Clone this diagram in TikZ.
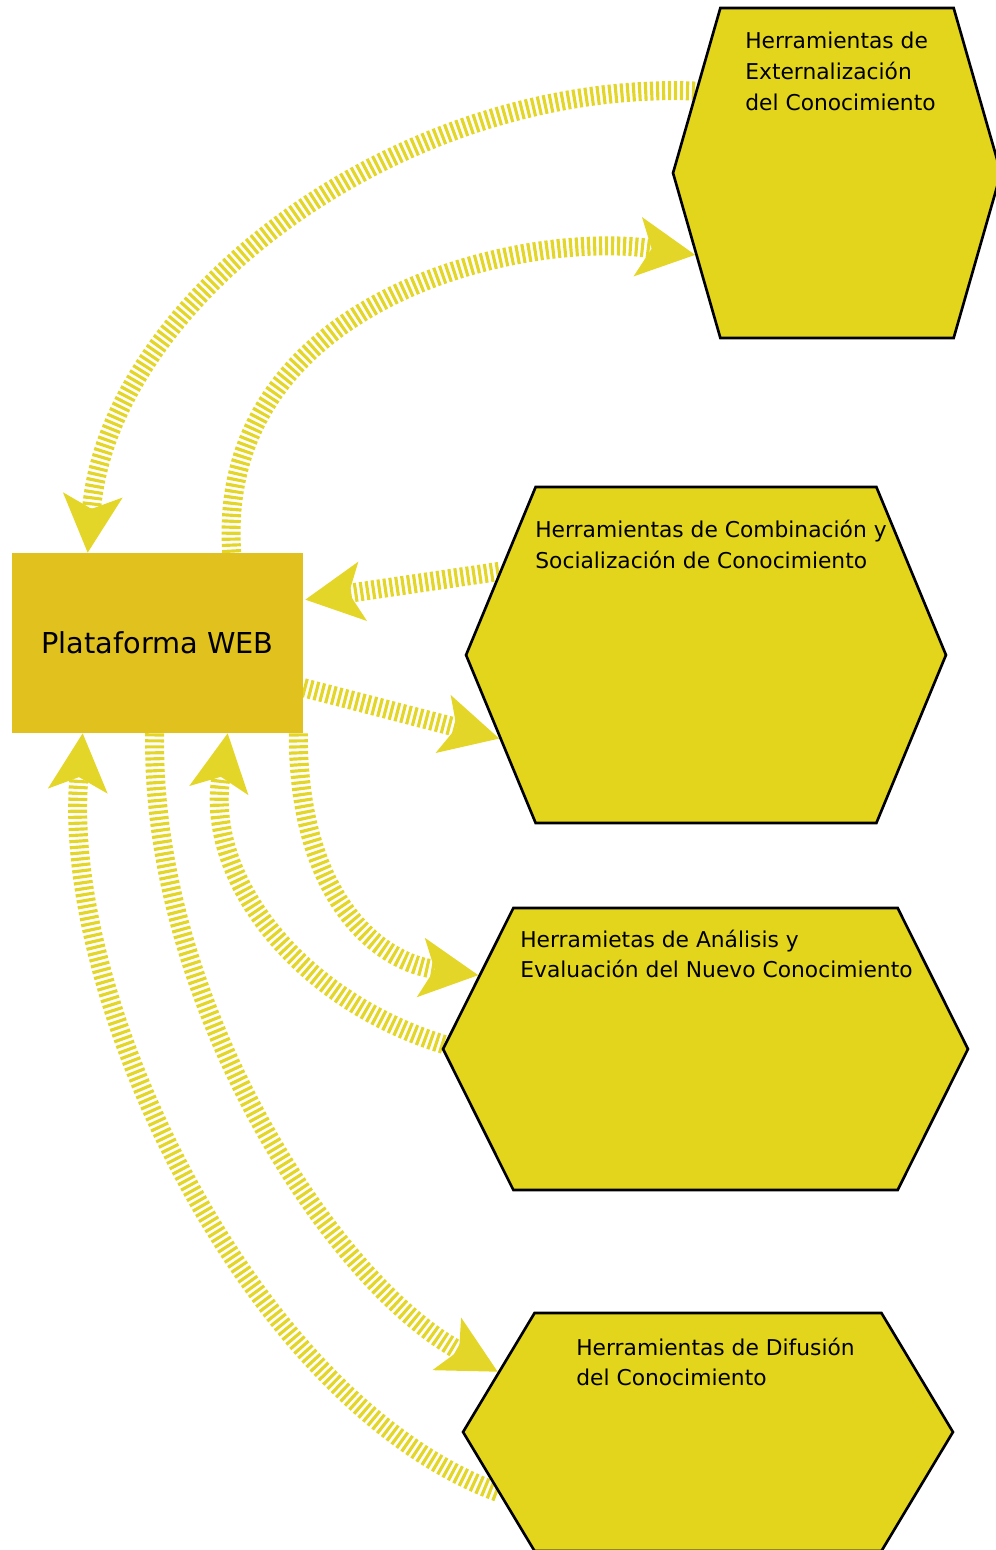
\documentclass[tikz,border=0pt]{standalone}
\usepackage{fontspec}
\setmainfont{DejaVu Sans}
\usepackage{tikz}
\usetikzlibrary{shapes.symbols, arrows.meta, calc, backgrounds}
\definecolor{webgold}{RGB}{224,193,30}
\definecolor{toolyellow}{RGB}{226,213,28}
\definecolor{flowyellow}{RGB}{227,214,40}

\begin{document}
\begin{tikzpicture}[
    x=0.02cm, y=-0.02cm,
    web/.style={rectangle, fill=webgold, minimum width=5.82cm, minimum height=3.6cm, inner sep=0pt, font=\fontsize{16.4}{20}\selectfont},
    tool/.style={signal, signal to=east and west, draw=black, line width=1.5pt, fill=toolyellow, inner sep=0pt},
    tooltext/.style={anchor=north west, inner sep=0pt, align=left, font=\fontsize{12.4}{17.6}\selectfont},
    flow/.style={draw=flowyellow, line width=0.38cm, dash pattern=on 1.8pt off 1.6pt,
        -{Stealth[length=1.16cm, width=1.2cm, inset=0.28cm, line width=0pt]}}
]
\useasboundingbox (0,0) rectangle (995,1550);

% Platform
\node[web] (plat) at (157.5,643) {Plataforma WEB};

% Tool hexagons
\node[tool, minimum width=6.56cm, minimum height=6.6cm, signal pointer angle=148] (ext) at (837,173) {};
\node[tool, minimum width=9.6cm, minimum height=6.72cm, signal pointer angle=135] (soc) at (706,655) {};
\node[tool, minimum width=10.5cm, minimum height=5.64cm, signal pointer angle=127] (ana) at (705.5,1049) {};
\node[tool, minimum width=9.8cm, minimum height=4.76cm, signal pointer angle=118] (dif) at (708,1432) {};

% Tool labels
\node[tooltext] (extlbl) at (745,27) {\strut Herramientas de\\Externalización\\del Conocimiento};
\node[tooltext] (soclbl) at (535,516) {\strut Herramientas de Combinación y\\Socialización de Conocimiento};
\node[tooltext] (analbl) at (520,925) {\strut Herramietas de Análisis y\\Evaluación del Nuevo Conocimiento};
\node[tooltext] (diflbl) at (576,1333) {\strut Herramientas de Difusión\\del Conocimiento};

% Arrows
\begin{pgfonlayer}{background}
\draw[flow] (ext.150) .. controls (400,80) and (110,300) .. ($(plat.north west)+(76,0)$);
\draw[flow] ($(plat.north west)+(220,0)$) .. controls (215,300) and (520,230) .. (ext.210);
\draw[flow] (soc.158) -- ($(plat.north east)+(2,47)$);
\draw[flow] ($(plat.north east)+(0,135)$) -- (soc.202);
\draw[flow] ($(plat.south east)+(-5,0)$) .. controls (298,900) and (380,962) .. (ana.162);
\draw[flow] (ana.179) .. controls (300,1000) and (205,880) .. ($(plat.south west)+(216,0)$);
\draw[flow] ($(plat.south west)+(143,0)$) .. controls (150,1000) and (330,1280) .. (dif.164);
\draw[flow] (dif.196) .. controls (250,1400) and (60,1000) .. ($(plat.south west)+(71,0)$);
\end{pgfonlayer}
\end{tikzpicture}
\end{document}
